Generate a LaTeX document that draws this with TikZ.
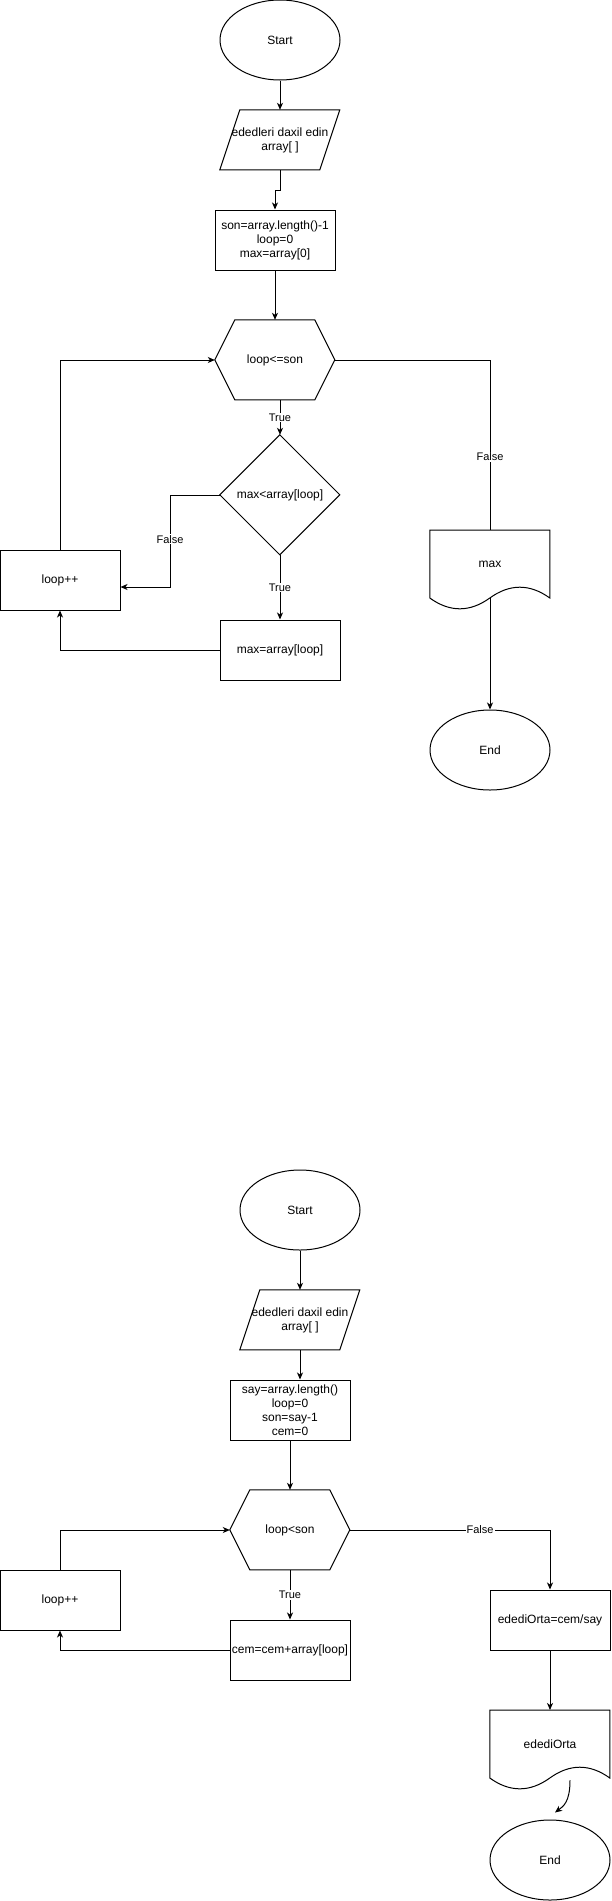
\documentclass[tikz,border=0pt]{standalone}
\usepackage{fontspec}
\setmainfont{Liberation Sans}
\usetikzlibrary{shapes.geometric,arrows.meta,calc}
\tikzset{
  base/.style={inner sep=0pt, align=center, font=\fontsize{12}{14}\selectfont},
  term/.style={base, ellipse, draw, line width=1pt, minimum width=120pt, minimum height=80pt},
  proc/.style={base, rectangle, draw, line width=1pt, minimum width=120pt, minimum height=60pt},
  plain/.style={base, minimum width=120pt, minimum height=60pt},
  hexbox/.style={base, minimum width=120pt, minimum height=80pt},
  diabox/.style={base, minimum width=120pt, minimum height=120pt},
  docbox/.style={base, minimum width=120pt, minimum height=68pt, anchor=north},
  outline/.style={draw, line width=1pt, line join=miter},
  conn/.style={line width=1pt},
  arr/.style={conn, -{Stealth[length=7pt,width=6pt,inset=2pt]}},
  lbl/.style={fill=white, inner sep=1pt, font=\fontsize{11}{13}\selectfont}
}
\newcommand\paraout[1]{\draw[outline,shift={(#1.north west)}] (20,0) -- (120,0) -- (100,60) -- (0,60) -- cycle;}
\newcommand\hexout[1]{\draw[outline,shift={(#1.north west)}] (20,0) -- (100,0) -- (120,40) -- (100,80) -- (20,80) -- (0,40) -- cycle;}
\newcommand\diaout[1]{\draw[outline,shift={(#1.north west)}] (60,0) -- (120,60) -- (60,120) -- (0,60) -- cycle;}
\newcommand\docout[1]{\draw[outline,shift={(#1.north west)}] (0,68) -- (0,0) -- (120,0) -- (120,68) .. controls (100,53.6) and (80,53.6) .. (60,68) .. controls (40,82.4) and (20,82.4) .. cycle;}
\begin{document}
\begin{tikzpicture}[x=1pt,y=-1pt]
\useasboundingbox (0,0) rectangle (611,1901);
% ---------- top flowchart ----------
\node[term] (start1) at (280,40) {Start};
\node[plain] (in1) at (280,140) {ededleri daxil edin\\array[ ]};
\paraout{in1}
\node[proc] (init1) at (275,240) {son=array.length()-1\\loop=0\\max=array[0]};
\node[hexbox] (hex1) at (275,360) {loop<=son};
\hexout{hex1}
\node[diabox] (dia1) at (280,495) {max<array[loop]};
\diaout{dia1}
\node[proc] (inc1) at (60,580) {loop++};
\node[proc] (set1) at (280,650) {max=array[loop]};
\node[docbox] (out1) at (490,530) {max};
\docout{out1}
\node[term] (end1) at (490,750) {End};

\draw[arr] (start1.south) -- (in1.north);
\draw[arr] (in1.south) -- ++(0,20) -| (init1.north);
\draw[arr] (init1.south) -- (hex1.north);
\draw[arr] (hex1.south -| dia1.north) -- node[lbl]{True} (dia1.north);
\coordinate (f1) at (170,587);
\draw[arr] (dia1.west) -| node[lbl,pos=0.74]{False} (f1) -- (f1 -| inc1.east);
\draw[arr] (dia1.south) -- node[lbl]{True} (set1.north);
\draw[arr] (set1.west) -| (inc1.south);
\draw[arr] (inc1.north) |- (hex1.west);
\draw[conn] (hex1.east) -| node[lbl,pos=0.785]{False} (out1.north);
\draw[arr] (out1.south) -- (end1.north);

% ---------- bottom flowchart ----------
\node[term] (start2) at (300,1210) {Start};
\node[plain] (in2) at (300,1320) {ededleri daxil edin\\array[ ]};
\paraout{in2}
\node[proc] (init2) at (290,1410) {say=array.length()\\loop=0\\son=say-1\\cem=0};
\node[hexbox] (hex2) at (290,1530) {loop<son};
\hexout{hex2}
\node[proc] (inc2) at (60,1600) {loop++};
\node[proc] (set2) at (290,1650) {cem=cem+array[loop]};
\node[proc] (calc2) at (550,1620) {edediOrta=cem/say};
\node[docbox] (out2) at (550,1710) {edediOrta};
\docout{out2}
\node[term] (end2) at (550,1860) {End};

\draw[arr] (start2.south) -- (in2.north);
\draw[arr] (in2.south) -- (in2.south |- init2.north);
\draw[arr] (init2.south) -- (hex2.north);
\draw[arr] (hex2.east) -| node[lbl,pos=0.325]{False} (calc2.north);
\draw[arr] (hex2.south) -- node[lbl]{True} (set2.north);
\draw[arr] (set2.west) -| (inc2.south);
\draw[arr] (inc2.north) |- (hex2.west);
\draw[arr] (calc2.south) -- (out2.north);
\coordinate (c2a) at ($(out2.south)+(20,2)$);
\coordinate (c2b) at ($(end2.north)+(5,-7)$);
\draw[arr] (c2a) .. controls ($(c2a)+(0,22)$) and ($(c2b)+(8,-6)$) .. (c2b);
\end{tikzpicture}
\end{document}
